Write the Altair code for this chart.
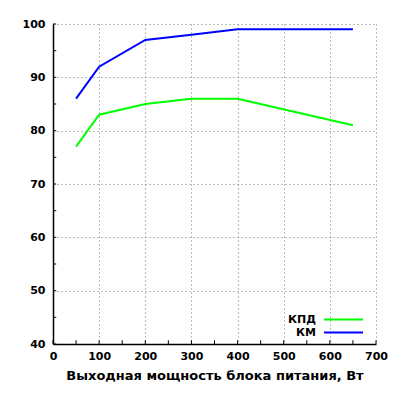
import pandas as pd
import altair as alt

power = [50, 100, 200, 300, 400, 650]
kpd = [77, 83, 85, 86, 86, 81]
km = [86, 92, 97, 98, 99, 99]
series = ['КПД', 'КМ']
colors = ['#00ff00', '#0000ff']

x_ticks = list(range(0, 701, 50))
y_ticks = list(range(40, 101, 5))

df = pd.concat([
    pd.DataFrame({'w': power, 'v': kpd, 's': 'КПД'}),
    pd.DataFrame({'w': power, 'v': km, 's': 'КМ'}),
])

font = 'DejaVu Sans'
xs = alt.Scale(domain=[0, 700], nice=False)
ys = alt.Scale(domain=[40, 100], nice=False)

lines = alt.Chart(df).mark_line(strokeWidth=2, clip=True).encode(
    alt.X('w:Q', scale=xs, title='Выходная мощность блока питания, Вт',
          axis=alt.Axis(values=list(range(0, 701, 100)))),
    alt.Y('v:Q', scale=ys, title=None,
          axis=alt.Axis(values=list(range(40, 101, 10)))),
    alt.Color('s:N', scale=alt.Scale(domain=series, range=colors), title=None,
              legend=alt.Legend(orient='none', legendX=283, legendY=288,
                                symbolType='M-3,0H3', symbolSize=169,
                                symbolStrokeWidth=2, labelAlign='right',
                                labelOffset={'expr': '-35'}, rowPadding=0)),
    order='w:Q',
)

# inward tick marks
xt = alt.Chart(pd.DataFrame({'t': x_ticks})).mark_rule(color='black', strokeWidth=1).encode(
    x=alt.X('t:Q', scale=xs),
    y=alt.datum(40, scale=ys),
    y2=alt.datum(40.7),
)
yt = alt.Chart(pd.DataFrame({'t': y_ticks})).mark_rule(color='black', strokeWidth=1).encode(
    y=alt.Y('t:Q', scale=ys),
    x=alt.datum(0, scale=xs),
    x2=alt.datum(7),
)

chart = alt.layer(lines, xt, yt).properties(
    width=323, height=320,
    autosize=alt.AutoSizeParams(type='none'),
    padding={'left': 45, 'top': 16, 'right': 16, 'bottom': 50},
).configure_view(stroke=None).configure_axis(
    grid=True, gridColor='#777', gridDash=[1, 3], gridWidth=1,
    ticks=False, domainColor='black', domainWidth=1.5, labelFlush=False,
    labelFont=font, labelFontWeight='bold', labelFontSize=11, labelColor='black',
    titleFont=font, titleFontWeight='bold', titleFontSize=13, titleColor='black',
).configure_axisY(labelPadding=8).configure_axisX(labelPadding=6, titlePadding=8).configure_legend(
    labelFont=font, labelFontWeight='bold', labelFontSize=11, labelColor='black',
)

chart.save("out.html", embed_options={"renderer": "svg", "actions": False})
